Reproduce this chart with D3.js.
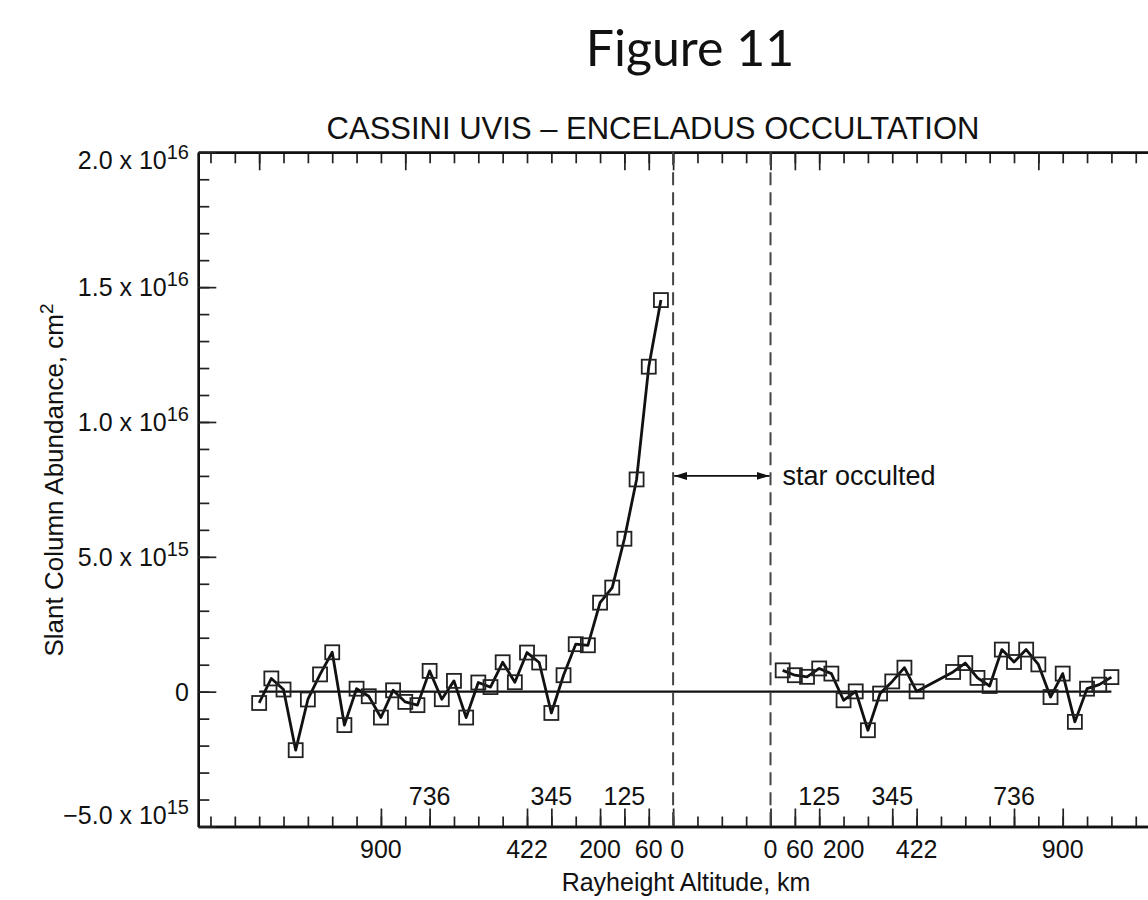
<!DOCTYPE html>
<html>
<head>
<meta charset="utf-8">
<script src="https://cdn.jsdelivr.net/npm/d3@7"></script>
<style>
  body { margin: 0; background: #fff; }
  svg { display: block; }
  text { font-family: "Liberation Sans", Arial, Helvetica, sans-serif; fill: #111; }
</style>
</head>
<body>
<svg id="chart" width="1148" height="900"></svg>
<script>
// Sample times (tick units, two samples per tick) and slant column abundance (10^15 cm^-2)
const ingressTime = [2.0, 2.5, 3.0, 3.5, 4.0, 4.5, 5.0, 5.5, 6.0, 6.5, 7.0, 7.5, 8.0, 8.5, 9.0, 9.5,
  10.0, 10.5, 11.0, 11.5, 12.0, 12.5, 13.0, 13.5, 14.0, 14.5, 15.0, 15.5, 16.0, 16.5, 17.0, 17.5, 18.0, 18.5];
const ingressColumn = [-0.42, 0.49, 0.08, -2.17, -0.29, 0.64, 1.46, -1.24, 0.11, -0.17, -0.96, 0.05, -0.38, -0.50, 0.77, -0.28,
  0.40, -0.96, 0.34, 0.17, 1.09, 0.35, 1.45, 1.08, -0.79, 0.61, 1.76, 1.72, 3.30, 3.86, 5.67, 7.87, 12.05, 14.52];

const egressTime = [23.5, 24.0, 24.5, 25.0, 25.5, 26.0, 26.5, 27.0, 27.5, 28.0, 28.5, 29.0,
  30.5, 31.0, 31.5, 32.0, 32.5, 33.0, 33.5, 34.0, 34.5, 35.0, 35.5, 36.0, 36.5, 37.0];
const egressColumn = [0.79, 0.61, 0.55, 0.86, 0.67, -0.32, 0.01, -1.43, -0.07, 0.38, 0.89, 0.01,
  0.73, 1.06, 0.51, 0.21, 1.56, 1.10, 1.56, 1.01, -0.20, 0.67, -1.12, 0.11, 0.26, 0.54];

// Y axis ticks
const yTickValues = [-5, 0, 5, 10, 15, 20];
const yTickMantissa = ["\u22125.0 x 10", "0", "5.0 x 10", "1.0 x 10", "1.5 x 10", "2.0 x 10"];
const yTickExponent = ["15", "", "15", "16", "16", "16"];

// Rayheight altitude labels (km) along the time axis
const lowerAltTicks = [7, 13, 16, 18, 19, 23, 24, 26, 29, 35];
const lowerAltLabels = ["900", "422", "200", "60", "0", "0", "60", "200", "422", "900"];
const upperAltTicks = [9, 14, 17, 25, 28, 33];
const upperAltLabels = ["736", "345", "125", "125", "345", "736"];
const bottomMajorTicks = [7, 9, 13, 14, 16, 17, 18, 19, 23, 24, 25, 28, 29, 33, 35];
const topMajorTicks = [2, 8, 17, 18, 19, 23, 24, 25, 34];

// Interval when the star is behind Enceladus
const occultStart = 19, occultEnd = 23;
const occultArrowLevel = 8;

const svg = d3.select("#chart");

const x = d3.scaleLinear().domain([-0.5, 39]).range([198.3, 1160.1]);
const y = d3.scaleLinear().domain([-5, 20]).range([826.5, 152.3]);

const minorTimeTicks = d3.range(0, 39);
const minorColumnTicks = d3.range(-5, 21);

// Axes: ticks point into the plot
function styleAxis(g) {
  g.selectAll("path.domain").attr("stroke", "#111").attr("stroke-width", 2.4);
  g.selectAll(".tick line").attr("stroke", "#222").attr("stroke-width", 1.7);
  g.selectAll(".tick text").remove();
}

svg.append("g").attr("transform", `translate(0,${y(-5)})`)
  .call(d3.axisBottom(x).tickValues(minorTimeTicks).tickSizeInner(-10).tickSizeOuter(0)).call(styleAxis);
svg.append("g").attr("transform", `translate(0,${y(-5)})`)
  .call(d3.axisBottom(x).tickValues(bottomMajorTicks).tickSizeInner(-18).tickSizeOuter(0)).call(styleAxis);

svg.append("g").attr("transform", `translate(0,${y(20)})`)
  .call(d3.axisTop(x).tickValues(minorTimeTicks).tickSizeInner(-11).tickSizeOuter(0)).call(styleAxis);
svg.append("g").attr("transform", `translate(0,${y(20)})`)
  .call(d3.axisTop(x).tickValues(topMajorTicks).tickSizeInner(-18).tickSizeOuter(0)).call(styleAxis);

svg.append("g").attr("transform", `translate(${x(-0.5)},0)`)
  .call(d3.axisLeft(y).tickValues(minorColumnTicks).tickSizeInner(-11).tickSizeOuter(0)).call(styleAxis);
svg.append("g").attr("transform", `translate(${x(-0.5)},0)`)
  .call(d3.axisLeft(y).tickValues(yTickValues).tickSizeInner(-18).tickSizeOuter(0)).call(styleAxis);

// Y tick labels with superscript exponents; the end labels sit inside the frame
const yLabels = svg.append("g");
yTickValues.forEach((v, i) => {
  const shift = v === 20 ? 8 : v === -5 ? -12 : 0;
  const t = yLabels.append("text")
    .attr("x", 189).attr("y", y(v) + 9 + shift)
    .attr("text-anchor", "end").attr("font-size", 25);
  t.append("tspan").text(yTickMantissa[i]);
  if (yTickExponent[i]) {
    t.append("tspan").attr("font-size", 20).attr("dy", -10).text(yTickExponent[i]);
  }
});

// Altitude labels below and above the bottom axis; the crowded pair beside
// each occultation boundary is nudged apart
const labelNudge = d => (d === occultStart ? 4 : d === occultEnd + 1 ? 5 : 0);
svg.append("g").selectAll("text").data(lowerAltTicks).join("text")
  .attr("x", d => x(d) + labelNudge(d)).attr("y", y(-5) + 31)
  .attr("text-anchor", "middle").attr("font-size", 25)
  .text((d, i) => lowerAltLabels[i]);
svg.append("g").selectAll("text").data(upperAltTicks).join("text")
  .attr("x", d => x(d)).attr("y", y(-5) - 22)
  .attr("text-anchor", "middle").attr("font-size", 25)
  .text((d, i) => upperAltLabels[i]);

// Axis titles
svg.append("text")
  .attr("x", 686).attr("y", 891)
  .attr("text-anchor", "middle").attr("font-size", 25)
  .text("Rayheight Altitude, km");

const yTitle = svg.append("text")
  .attr("transform", `translate(63,480) rotate(-90)`)
  .attr("text-anchor", "middle").attr("font-size", 26);
yTitle.append("tspan").text("Slant Column Abundance, cm");
yTitle.append("tspan").attr("font-size", 19).attr("dy", -10).text("2");

// Titles
svg.append("text")
  .attr("x", 653).attr("y", 139)
  .attr("text-anchor", "middle").attr("font-size", 31)
  .text("CASSINI UVIS \u2013 ENCELADUS OCCULTATION");

svg.append("text")
  .attr("x", 690).attr("y", 66)
  .attr("text-anchor", "middle").attr("font-size", 50)
  .style("font-family", "Lato, 'Open Sans', sans-serif")
  .text("Figure 11");

// Zero reference line across the sampled range
const tFirst = d3.min(ingressTime), tLast = d3.max(egressTime);
svg.append("line")
  .attr("x1", x(tFirst)).attr("x2", x(tLast))
  .attr("y1", y(0)).attr("y2", y(0))
  .attr("stroke", "#111").attr("stroke-width", 2.2);

// Occultation boundaries
svg.append("g").selectAll("line").data([occultStart, occultEnd]).join("line")
  .attr("x1", d => x(d)).attr("x2", d => x(d))
  .attr("y1", y(20)).attr("y2", y(-5))
  .attr("stroke", "#444").attr("stroke-width", 2)
  .attr("stroke-dasharray", "13,7");

// Double arrow spanning the occultation
const defs = svg.append("defs");
defs.append("marker").attr("id", "arrowHead")
  .attr("viewBox", "0 0 13 10").attr("refX", 13).attr("refY", 5)
  .attr("markerWidth", 13).attr("markerHeight", 10)
  .attr("markerUnits", "userSpaceOnUse").attr("orient", "auto-start-reverse")
  .append("path").attr("d", "M0,1 L13,5 L0,9 Z").attr("fill", "#111");

svg.append("line")
  .attr("x1", x(occultStart) + 1).attr("x2", x(occultEnd) - 1)
  .attr("y1", y(occultArrowLevel)).attr("y2", y(occultArrowLevel))
  .attr("stroke", "#111").attr("stroke-width", 1.6)
  .attr("marker-start", "url(#arrowHead)").attr("marker-end", "url(#arrowHead)");

svg.append("text")
  .attr("x", x(occultEnd) + 12).attr("y", y(occultArrowLevel) + 9)
  .attr("font-size", 27)
  .text("star occulted");

// Data series
const ingress = ingressTime.map((t, i) => ({ t, v: ingressColumn[i] }));
const egress = egressTime.map((t, i) => ({ t, v: egressColumn[i] }));

const line = d3.line().x(d => x(d.t)).y(d => y(d.v));

[ingress, egress].forEach(series => {
  svg.append("path").datum(series)
    .attr("d", line)
    .attr("fill", "none").attr("stroke", "#111")
    .attr("stroke-width", 2.8).attr("stroke-linejoin", "round");

  svg.append("g").selectAll("rect").data(series).join("rect")
    .attr("x", d => x(d.t) - 7).attr("y", d => y(d.v) - 7)
    .attr("width", 14).attr("height", 14)
    .attr("fill", "none").attr("stroke", "#222").attr("stroke-width", 1.8);
});
</script>
</body>
</html>
